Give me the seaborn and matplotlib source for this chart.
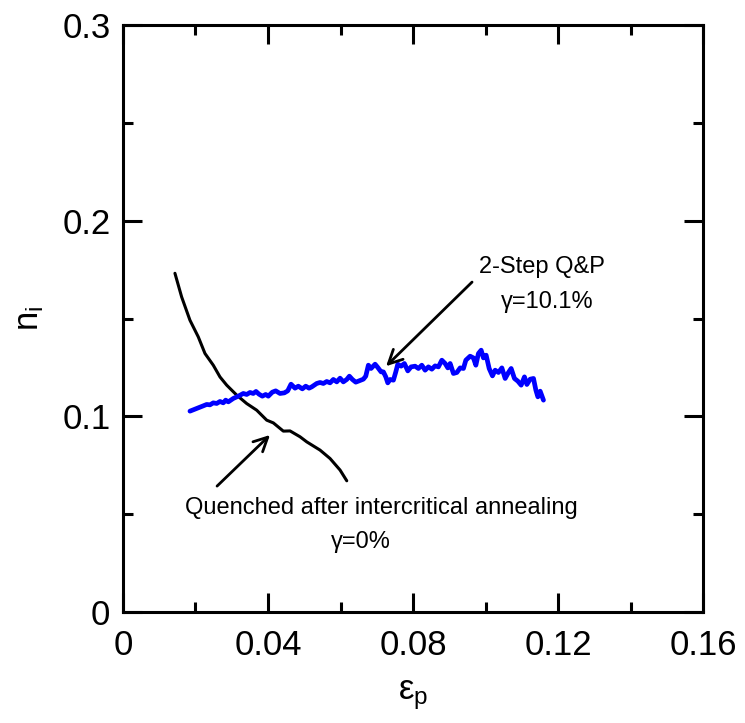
import numpy as np
import pandas as pd
import matplotlib
matplotlib.use("Agg")
import matplotlib.pyplot as plt
from matplotlib.ticker import MultipleLocator
import seaborn as sns

# ---- data ----
quenched_x = [0.01434, 0.01619, 0.01848, 0.02077, 0.02262, 0.02491, 0.02676, 0.02861,
              0.03137, 0.03412, 0.03688, 0.03964, 0.04147, 0.04422, 0.04607, 0.04883,
              0.05068, 0.05434, 0.05710, 0.05986, 0.06171]
quenched_y = [0.1732, 0.1611, 0.1492, 0.1407, 0.1322, 0.1262, 0.1202, 0.1160,
              0.1109, 0.1066, 0.1032, 0.0981, 0.0967, 0.0925, 0.0926, 0.0896,
              0.0870, 0.0828, 0.0785, 0.0726, 0.0671]

qp_x = [0.01848, 0.01986, 0.02124, 0.02215, 0.02309, 0.02400, 0.02491, 0.02585, 0.02676,
        0.02767, 0.02833, 0.02905, 0.03043, 0.03181, 0.03319, 0.03412, 0.03503, 0.03594,
        0.03669, 0.03752, 0.03843, 0.03937, 0.04008, 0.04119, 0.04212, 0.04331, 0.04450,
        0.04543, 0.04634, 0.04745, 0.04836, 0.04946, 0.05040, 0.05131,
        0.05206, 0.05343, 0.05434, 0.05526, 0.05619, 0.05710, 0.05801, 0.05895, 0.05986,
        0.06077, 0.06171, 0.06243, 0.06326, 0.06419, 0.06510, 0.06629, 0.06695, 0.06767,
        0.06841, 0.06952, 0.07026, 0.07117, 0.07181, 0.07247, 0.07302, 0.07366, 0.07457,
        0.07523, 0.07578, 0.07669, 0.07760, 0.07854, 0.07945, 0.08055, 0.08146, 0.08240,
        0.08331, 0.08422, 0.08516, 0.08607, 0.08698, 0.08792, 0.08883, 0.08957, 0.09021,
        0.09112, 0.09206, 0.09297, 0.09388, 0.09454, 0.09572, 0.09663, 0.09730, 0.09801,
        0.09876, 0.09939, 0.10014, 0.10097, 0.10188, 0.10262, 0.10353, 0.10447, 0.10538,
        0.10629, 0.10703, 0.10794, 0.10888, 0.10979, 0.11070, 0.11137, 0.11228, 0.11319,
        0.11385, 0.11440, 0.11503, 0.11594]
qp_y = [0.10271, 0.10373, 0.10475, 0.10542, 0.10613, 0.10593, 0.10695, 0.10664, 0.10766,
        0.10695, 0.10833, 0.10746, 0.10920, 0.11037, 0.11175, 0.11124, 0.11226, 0.11175,
        0.11278, 0.11139, 0.11037, 0.11124, 0.11037, 0.11242, 0.11308, 0.11175, 0.11206,
        0.11308, 0.11650, 0.11446, 0.11548, 0.11410, 0.11548, 0.11446,
        0.11513, 0.11686, 0.11737, 0.11686, 0.11788, 0.11717, 0.11891, 0.11768, 0.11957,
        0.11768, 0.11891, 0.12059, 0.11891, 0.11753, 0.11819, 0.11906, 0.12059, 0.12621,
        0.12453, 0.12672, 0.12504, 0.12279, 0.12279, 0.12024, 0.11717, 0.11891, 0.11855,
        0.12279, 0.12672, 0.12570, 0.12708, 0.12330, 0.12535, 0.12570, 0.12453, 0.12621,
        0.12366, 0.12535, 0.12417, 0.12586, 0.12535, 0.12877, 0.12708, 0.12483, 0.12708,
        0.12197, 0.12248, 0.12483, 0.12453, 0.12877, 0.13081, 0.12994, 0.12621, 0.13219,
        0.13388, 0.12994, 0.13132, 0.12453, 0.12075, 0.12366, 0.12248, 0.12483, 0.11942,
        0.12248, 0.12453, 0.11942, 0.11804, 0.11600, 0.12024, 0.11635, 0.11906, 0.11942,
        0.11344, 0.11002, 0.11293, 0.10833]

x_ticks = [0, 0.04, 0.08, 0.12, 0.16]
x_tick_labels = ["0", "0.04", "0.08", "0.12", "0.16"]
y_ticks = [0, 0.1, 0.2, 0.3]
y_tick_labels = ["0", "0.1", "0.2", "0.3"]

label_qp = "2-Step Q&P"
label_qp_gamma = "γ=10.1%"
label_q = "Quenched after intercritical annealing"
label_q_gamma = "γ=0%"

# ---- styling ----
sns.set_style("ticks")
plt.rcParams["font.family"] = ["Liberation Sans", "DejaVu Sans"]
plt.rcParams["mathtext.fontset"] = "custom"
plt.rcParams["mathtext.rm"] = "Liberation Sans"
plt.rcParams["mathtext.it"] = "Liberation Sans"
plt.rcParams["text.color"] = "black"
plt.rcParams["axes.labelcolor"] = "black"
plt.rcParams["xtick.color"] = "black"
plt.rcParams["ytick.color"] = "black"

fig = plt.figure(figsize=(7.45, 7.23), dpi=100)
ax = fig.add_axes([0.165, 0.1535, 0.779, 0.8115])

df_q = pd.DataFrame({"x": quenched_x, "y": quenched_y})
df_qp = pd.DataFrame({"x": qp_x, "y": qp_y})
sns.lineplot(data=df_q, x="x", y="y", ax=ax, color="black", lw=2.2,
             sort=False, estimator=None)
sns.lineplot(data=df_qp, x="x", y="y", ax=ax, color="#0000ff", lw=3.4,
             sort=False, estimator=None)

ax.set_xlim(0, 0.16)
ax.set_ylim(0, 0.3)
ax.set_xticks(x_ticks)
ax.set_xticklabels(x_tick_labels)
ax.set_yticks(y_ticks)
ax.set_yticklabels(y_tick_labels)
ax.xaxis.set_minor_locator(MultipleLocator(0.02))
ax.yaxis.set_minor_locator(MultipleLocator(0.05))

ax.tick_params(which="both", direction="in", top=True, right=True, width=2.2,
               labelsize=25, colors="black", labelcolor="black")
ax.tick_params(which="major", length=14)
ax.tick_params(which="minor", length=7.5)
ax.tick_params(axis="x", which="major", pad=12)
ax.tick_params(axis="y", which="major", pad=9)
for s in ax.spines.values():
    s.set_linewidth(2.2)
    s.set_color("black")

ax.set_xlabel("ε$_\\mathrm{p}$", fontsize=25, labelpad=12, color="black")
ax.set_ylabel("n$_\\mathrm{i}$", fontsize=25, labelpad=12, color="black")

# annotations
ax.annotate("", xy=(0.0720, 0.1247), xytext=(0.0968, 0.1697),
            arrowprops=dict(arrowstyle="->", color="black", lw=2,
                            mutation_scale=25))
ax.annotate("", xy=(0.0411, 0.0915), xytext=(0.0254, 0.0634),
            arrowprops=dict(arrowstyle="->", color="black", lw=2,
                            mutation_scale=25))
ax.text(0.1156, 0.1763, label_qp, fontsize=17, ha="center", va="center", color="black")
ax.text(0.1170, 0.1584, label_qp_gamma, fontsize=17, ha="center", va="center", color="black")
ax.text(0.0712, 0.0531, label_q, fontsize=17, ha="center", va="center", color="black")
ax.text(0.0657, 0.0358, label_q_gamma, fontsize=17, ha="center", va="center", color="black")

fig.savefig("out.png", dpi=100)
